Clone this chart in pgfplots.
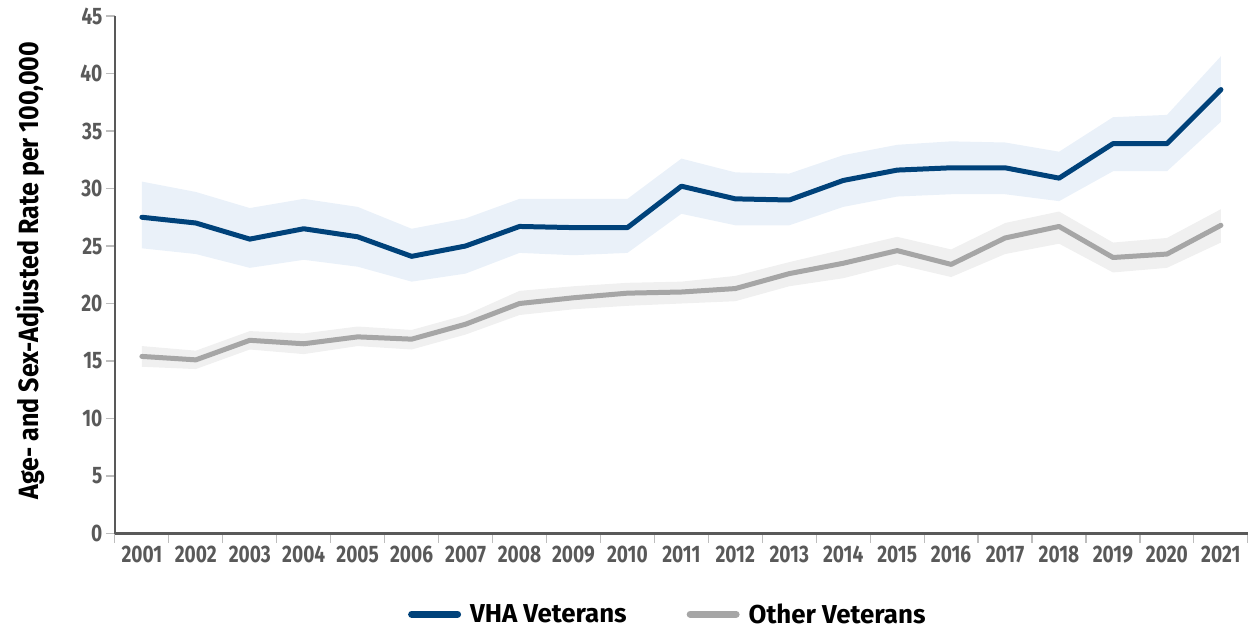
\documentclass[border=0pt]{standalone}
\usepackage{pgfplots}
\pgfplotsset{compat=1.18}
\usepgfplotslibrary{fillbetween}
\usepackage{pgfplotstable}
\usepackage{fontspec}
\setmainfont{Fira Sans}[FakeStretch=0.8]
\newfontfamily\ylabfont{Fira Sans}[FakeStretch=0.9]
\newfontfamily\legfont{Fira Sans}

\definecolor{vha}{HTML}{00427A}
\definecolor{vhaband}{HTML}{EAF1F9}
\definecolor{oth}{HTML}{A6A6A6}
\definecolor{othband}{HTML}{F0F0F0}
\definecolor{axgray}{HTML}{595959}
\definecolor{tickgray}{HTML}{BDBDBD}

% rates per 100,000 with upper/lower bounds
\pgfplotstableread{
year vha  vhalo vhahi oth  othlo othhi
2001 27.5 24.8  30.6  15.4 14.5  16.3
2002 27.0 24.3  29.7  15.1 14.3  15.9
2003 25.6 23.1  28.3  16.8 16.0  17.6
2004 26.5 23.8  29.1  16.5 15.6  17.4
2005 25.8 23.2  28.4  17.1 16.3  18.0
2006 24.1 21.9  26.5  16.9 16.0  17.7
2007 25.0 22.6  27.4  18.2 17.3  19.0
2008 26.7 24.4  29.1  20.0 19.0  21.1
2009 26.6 24.2  29.1  20.5 19.5  21.5
2010 26.6 24.4  29.1  20.9 19.8  21.8
2011 30.2 27.8  32.6  21.0 20.0  21.9
2012 29.1 26.8  31.4  21.3 20.2  22.4
2013 29.0 26.8  31.3  22.6 21.5  23.6
2014 30.7 28.4  32.9  23.5 22.2  24.7
2015 31.6 29.3  33.8  24.6 23.4  25.8
2016 31.8 29.5  34.1  23.4 22.3  24.7
2017 31.8 29.5  34.0  25.7 24.3  27.0
2018 30.9 28.9  33.2  26.7 25.2  28.0
2019 33.9 31.5  36.2  24.0 22.7  25.3
2020 33.9 31.5  36.4  24.3 23.1  25.7
2021 38.6 35.8  41.5  26.8 25.3  28.2
}\rates

\begin{document}
\begin{tikzpicture}
\begin{axis}[
    width=1134bp, height=518bp, scale only axis,
    xmin=2000.5, xmax=2021.5, ymin=0, ymax=45,
    axis x line*=bottom, axis y line*=left,
    axis line style={axgray, line width=2.2bp, -},
    xtick={2001,...,2021},
    minor xtick={2000.5,2001.5,...,2021.5},
    ytick={0,5,...,45},
    tick align=outside,
    major tick length=9bp, minor tick length=9bp,
    every major x tick/.append style={draw=none},
    every minor x tick/.append style={tickgray, line width=1.2bp},
    every major y tick/.append style={tickgray, line width=1.2bp},
    /pgf/number format/1000 sep={},
    /pgf/number format/assume math mode=true,
    tick label style={font=\fontsize{24}{28}\selectfont\bfseries, text=axgray},
    ylabel={Age- and Sex-Adjusted Rate per 100,000},
    every axis y label/.style={at={(axis description cs:-0.075,0.508)}, rotate=90, anchor=center,
        font=\ylabfont\fontsize{28}{32}\selectfont\bfseries, text=black},
    legend style={at={(0.488,-0.156)}, anchor=center, draw=none, fill=none,
        legend columns=2, font=\legfont\fontsize{26}{30}\selectfont\bfseries,
        /tikz/every even column/.append style={column sep=58bp},
        legend cell align=left},
    legend image code/.code={\draw[#1, line width=7bp, line cap=round] (0bp,0bp) -- (46bp,0bp);
        \path (54bp,0bp);},
]

% confidence bands
\addplot[name path=vhahi, draw=none, forget plot] table[x=year, y=vhahi] {\rates};
\addplot[name path=vhalo, draw=none, forget plot] table[x=year, y=vhalo] {\rates};
\addplot[vhaband, forget plot] fill between[of=vhahi and vhalo];
\addplot[name path=othhi, draw=none, forget plot] table[x=year, y=othhi] {\rates};
\addplot[name path=othlo, draw=none, forget plot] table[x=year, y=othlo] {\rates};
\addplot[othband, forget plot] fill between[of=othhi and othlo];

% rate lines
\addplot[vha, line width=5bp, line join=round, line cap=round] table[x=year, y=vha] {\rates};
\addlegendentry{VHA Veterans}
\addplot[oth, line width=5bp, line join=round, line cap=round] table[x=year, y=oth] {\rates};
\addlegendentry{Other Veterans}

\end{axis}
% page frame as in the reference
\path ([xshift=-115bp,yshift=-96bp]current axis.south west) rectangle ([yshift=16bp]current axis.north east);
\end{tikzpicture}
\end{document}
